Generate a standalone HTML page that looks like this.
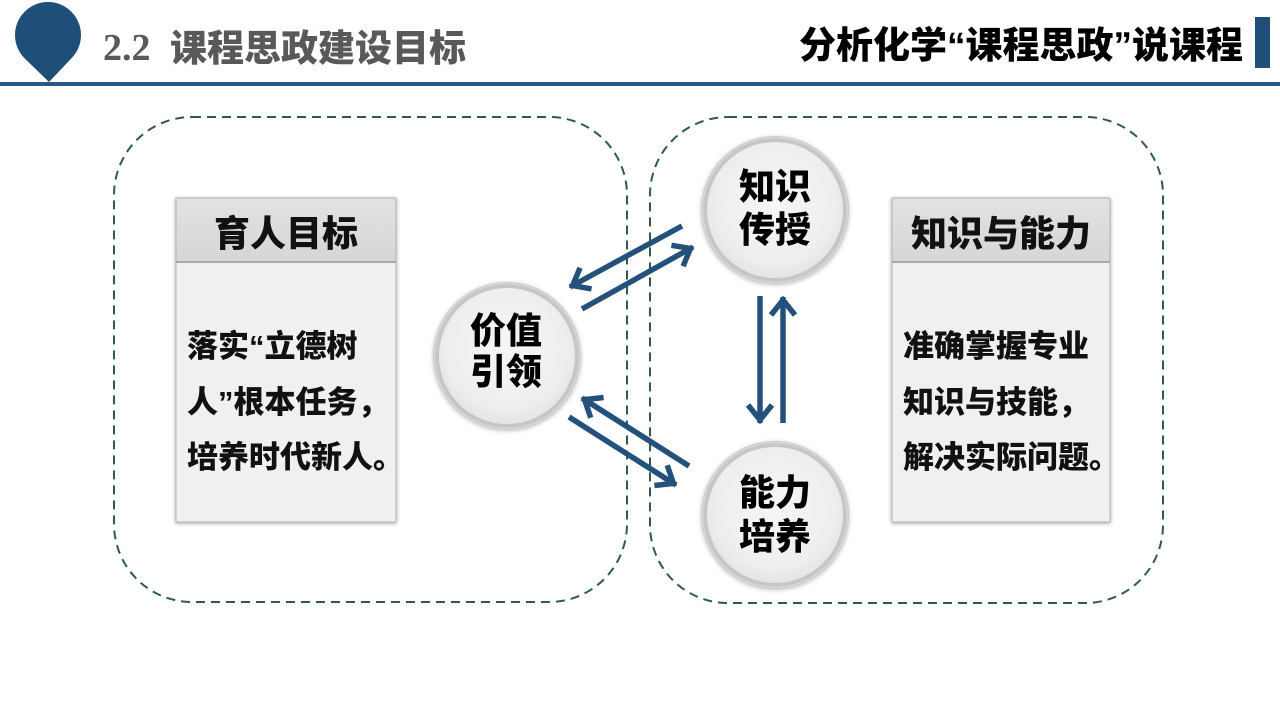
<!DOCTYPE html>
<html>
<head>
<meta charset="utf-8">
<style>
  html,body{margin:0;padding:0;background:#fff;}
  body{width:1280px;height:720px;overflow:hidden;}
  svg{display:block;}
  .cjk{font-family:"Liberation Sans","Noto Sans CJK SC","WenQuanYi Zen Hei",sans-serif;font-weight:900;}
</style>
</head>
<body>
<svg width="1280" height="720" viewBox="0 0 1280 720" xmlns="http://www.w3.org/2000/svg">
  <defs>
    <filter id="sh" x="-20%" y="-20%" width="140%" height="140%">
      <feDropShadow dx="0" dy="1" stdDeviation="2" flood-color="#000" flood-opacity="0.35"/>
    </filter>
    <filter id="csh" x="-20%" y="-20%" width="140%" height="140%">
      <feDropShadow dx="0" dy="1" stdDeviation="2" flood-color="#000" flood-opacity="0.25"/>
    </filter>
    <radialGradient id="cg" cx="50%" cy="45%" r="55%">
      <stop offset="0%" stop-color="#f6f6f6"/>
      <stop offset="80%" stop-color="#eeeeee"/>
      <stop offset="100%" stop-color="#e4e4e4"/>
    </radialGradient>
    <linearGradient id="hg" x1="0" y1="0" x2="0" y2="1">
      <stop offset="0%" stop-color="#e2e2e2"/>
      <stop offset="100%" stop-color="#d6d6d6"/>
    </linearGradient>
    <marker id="ah" markerUnits="userSpaceOnUse" markerWidth="40" markerHeight="40" viewBox="-20 -20 40 40" refX="3" refY="0" orient="auto" overflow="visible">
      <path d="M-15,-12 L0,0 L-15,12" fill="none" stroke="#24507c" stroke-width="5.5" stroke-linejoin="miter"/>
    </marker>
  </defs>

  <!-- Header -->
  <path d="M49 82 L24.5 58.2 A33 33 0 1 1 71.5 58.2 Z" fill="#1f4e79"/>
  <text x="103" y="60" font-family="'Liberation Serif',serif" font-weight="700" font-size="38" fill="#595959">2.2</text>
  <text x="170" y="61" class="cjk" font-size="37" fill="#595959">课程思政建设目标</text>
  <text x="1243" y="58" class="cjk" font-size="37" fill="#000" text-anchor="end">分析化学“课程思政”说课程</text>
  <rect x="1255" y="17" width="15" height="51" fill="#1f4e79"/>
  <rect x="0" y="82" width="1280" height="4" fill="#2a5884"/>

  <!-- Dashed containers -->
  <rect x="114" y="117" width="513" height="485" rx="78" ry="78" fill="none" stroke="#2f5a4c" stroke-width="2" stroke-dasharray="9 6"/>
  <rect x="650" y="117" width="513" height="486" rx="78" ry="78" fill="none" stroke="#2f5a4c" stroke-width="2" stroke-dasharray="9 6"/>

  <!-- Left box -->
  <g filter="url(#sh)">
    <rect x="176" y="198" width="220" height="324" fill="#f0f0f0" stroke="#b4b4b4" stroke-width="1"/>
  </g>
  <rect x="176.5" y="198.5" width="219" height="63" fill="url(#hg)"/>
  <rect x="176" y="261" width="220" height="2" fill="#a9a9a9"/>
  <text x="286" y="246" class="cjk" font-size="36" fill="#111" text-anchor="middle">育人目标</text>
  <text x="187" y="357" class="cjk" font-size="31" fill="#111">落实“立德树</text>
  <text x="187" y="413" class="cjk" font-size="31" fill="#111">人”根本任务，</text>
  <text x="187" y="468" class="cjk" font-size="31" fill="#111">培养时代新人。</text>

  <!-- Right box -->
  <g filter="url(#sh)">
    <rect x="892" y="198" width="218" height="324" fill="#f0f0f0" stroke="#b4b4b4" stroke-width="1"/>
  </g>
  <rect x="892.5" y="198.5" width="217" height="63" fill="url(#hg)"/>
  <rect x="892" y="261" width="218" height="2" fill="#a9a9a9"/>
  <text x="1001" y="246" class="cjk" font-size="36" fill="#111" text-anchor="middle">知识与能力</text>
  <text x="903" y="357" class="cjk" font-size="31" fill="#111">准确掌握专业</text>
  <text x="903" y="413" class="cjk" font-size="31" fill="#111">知识与技能，</text>
  <text x="903" y="468" class="cjk" font-size="31" fill="#111">解决实际问题。</text>

  <!-- Circles -->
  <g filter="url(#csh)">
    <circle cx="775" cy="210" r="74" fill="#c6c6c6"/>
    <circle cx="507" cy="356" r="74" fill="#c6c6c6"/>
    <circle cx="775" cy="515" r="74" fill="#c6c6c6"/>
  </g>
  <circle cx="775" cy="210" r="72.5" fill="none" stroke="#d8d8d8" stroke-width="1.5"/>
  <circle cx="507" cy="356" r="72.5" fill="none" stroke="#d8d8d8" stroke-width="1.5"/>
  <circle cx="775" cy="515" r="72.5" fill="none" stroke="#d8d8d8" stroke-width="1.5"/>
  <circle cx="775" cy="210" r="68" fill="url(#cg)"/>
  <circle cx="507" cy="356" r="68" fill="url(#cg)"/>
  <circle cx="775" cy="515" r="68" fill="url(#cg)"/>

  <text x="775" y="199" class="cjk" font-size="36" fill="#000" text-anchor="middle">知识</text>
  <text x="775" y="242" class="cjk" font-size="36" fill="#000" text-anchor="middle">传授</text>
  <text x="506" y="343" class="cjk" font-size="36" fill="#000" text-anchor="middle">价值</text>
  <text x="506" y="384" class="cjk" font-size="36" fill="#000" text-anchor="middle">引领</text>
  <text x="775" y="505" class="cjk" font-size="36" fill="#000" text-anchor="middle">能力</text>
  <text x="775" y="549" class="cjk" font-size="36" fill="#000" text-anchor="middle">培养</text>

  <!-- Arrows -->
  <g stroke="#24507c" stroke-width="5.5" fill="none" marker-end="url(#ah)">
    <line x1="682" y1="226" x2="570" y2="287"/>
    <line x1="582" y1="309" x2="693" y2="247"/>
    <line x1="689" y1="466" x2="582" y2="398"/>
    <line x1="569" y1="417" x2="676" y2="485"/>
    <line x1="760" y1="296" x2="760" y2="423"/>
    <line x1="783" y1="423" x2="783" y2="297"/>
  </g>
</svg>
</body>
</html>
